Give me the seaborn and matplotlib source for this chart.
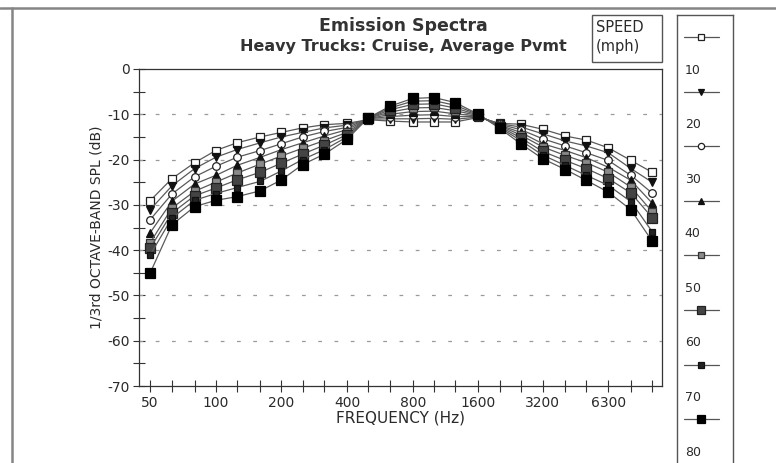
import numpy as np
import pandas as pd
import matplotlib
matplotlib.use("Agg")
import matplotlib.pyplot as plt
import seaborn as sns
from matplotlib.lines import Line2D
from matplotlib.patches import Rectangle

# ---- data ----
freqs = [50, 63, 80, 100, 125, 160, 200, 250, 315, 400, 500, 630, 800, 1000,
         1250, 1600, 2000, 2500, 3150, 4000, 5000, 6300, 8000, 10000]
speeds = [10, 20, 30, 40, 50, 60, 70, 80]

spl_10 = [-29.1, -24.2, -20.7, -18.0, -16.3, -15.0, -14.0, -13.0, -12.3, -12.0, -11.2, -11.5,
          -11.7, -11.7, -11.7, -10.7, -12.0, -12.2, -13.3, -14.8, -15.7, -17.4, -20.2, -22.8]
spl_20 = [-31.1, -25.8, -22.0, -19.5, -17.8, -16.3, -15.0, -14.0, -13.0, -12.4, -11.1, -11.0,
          -11.0, -10.9, -11.1, -10.6, -12.1, -12.8, -14.3, -15.9, -17.0, -18.5, -22.0, -25.0]
spl_30 = [-33.3, -27.6, -23.8, -21.5, -19.5, -18.0, -16.5, -15.0, -13.8, -12.9, -11.0, -10.5,
          -10.2, -10.1, -10.5, -10.5, -12.2, -13.4, -15.4, -17.0, -18.5, -20.2, -23.5, -27.4]
spl_40 = [-36.2, -29.2, -25.4, -23.5, -21.3, -19.5, -17.8, -16.3, -14.8, -13.4, -11.0, -10.0,
          -9.4, -9.3, -9.9, -10.4, -12.4, -14.0, -16.5, -18.0, -19.6, -21.7, -24.6, -29.6]
spl_50 = [-38.4, -30.7, -27.0, -25.0, -23.0, -21.0, -19.2, -17.5, -15.8, -14.0, -10.9, -9.5,
          -8.6, -8.5, -9.2, -10.3, -12.5, -14.6, -17.2, -19.1, -20.7, -22.8, -26.1, -31.5]
spl_60 = [-39.6, -31.8, -28.0, -26.3, -24.5, -22.8, -20.8, -18.8, -16.8, -14.5, -10.9, -9.0,
          -7.8, -7.7, -8.6, -10.2, -12.7, -15.2, -18.2, -20.2, -22.0, -24.2, -27.4, -32.8]
spl_70 = [-41.1, -32.9, -29.0, -27.5, -26.2, -24.8, -22.5, -20.0, -17.8, -15.0, -10.8, -8.6,
          -7.1, -7.0, -8.0, -10.1, -12.9, -15.8, -19.0, -21.3, -23.5, -25.7, -29.3, -35.9]
spl_80 = [-45.1, -34.4, -30.4, -29.0, -28.2, -26.9, -24.5, -21.1, -18.8, -15.5, -10.8, -8.2,
          -6.5, -6.3, -7.4, -10.0, -13.1, -16.5, -19.8, -22.2, -24.6, -27.2, -31.1, -38.0]

tick_freqs = [50, 100, 200, 400, 800, 1600, 3150, 6300]
tick_labels = ["50", "100", "200", "400", "800", "1600", "3200", "6300"]
y_ticks = [0, -10, -20, -30, -40, -50, -60, -70]

series = [spl_10, spl_20, spl_30, spl_40, spl_50, spl_60, spl_70, spl_80]
df = pd.DataFrame({
    "freq": freqs * len(speeds),
    "speed": np.repeat(speeds, len(freqs)),
    "spl": np.concatenate(series),
})

# ---- style ----
sns.set_theme(style="white")
plt.rcParams["font.family"] = ["DejaVu Sans"]
TXT = "#2a2a2a"

marker_styles = {
    10: dict(marker="s", mfc="white", mec="#222222", ms=6),
    20: dict(marker="v", mfc="#111111", mec="#111111", ms=6),
    30: dict(marker="o", mfc="white", mec="#222222", ms=5.5),
    40: dict(marker="^", mfc="#111111", mec="#111111", ms=6),
    50: dict(marker="s", mfc="#8a8a8a", mec="#333333", ms=6),
    60: dict(marker="s", mfc="#444444", mec="#222222", ms=6.5),
    70: dict(marker="s", mfc="#222222", mec="#111111", ms=5),
    80: dict(marker="s", mfc="#000000", mec="#000000", ms=7),
}

W, H = 776, 463
fig = plt.figure(figsize=(W / 100, H / 100), dpi=100)
fig.patch.set_facecolor("white")


def fx(px):
    return px / W


def fy(py):
    return 1 - py / H


ax = fig.add_axes([fx(139), fy(386), fx(662) - fx(139), fy(69) - fy(386)])

for sp in speeds:
    sub = df[df["speed"] == sp]
    st = marker_styles[sp]
    sns.lineplot(data=sub, x="freq", y="spl", ax=ax, color="#5a5a5a", lw=0.9,
                 marker=st["marker"], markersize=st["ms"],
                 markerfacecolor=st["mfc"], markeredgecolor=st["mec"],
                 markeredgewidth=0.9, legend=False, zorder=3)

ax.set_xscale("log")
ax.set_xlim(44.5, 11100)
ax.set_ylim(-70, 0)
ax.set_xticks(tick_freqs)
ax.set_xticklabels(tick_labels)
ax.set_xticks(freqs, minor=True)
ax.xaxis.set_minor_formatter(matplotlib.ticker.NullFormatter())
ax.set_yticks(y_ticks)
ax.set_yticklabels([str(v) for v in y_ticks])
ax.set_yticks(np.arange(-65, 0, 10), minor=True)
ax.tick_params(axis="both", which="both", direction="inout", length=9, width=0.8,
               color="#333333", labelcolor=TXT, bottom=True, left=True)
ax.tick_params(axis="x", which="major", labelsize=10, pad=3)
ax.tick_params(axis="y", which="major", labelsize=10, pad=2)

for v in [-10, -20, -30, -40, -50, -60]:
    ax.axhline(v, color="#9a9a9a", lw=0.9, ls=(0, (3, 10)), zorder=1)

for s in ax.spines.values():
    s.set_color("#333333")
    s.set_linewidth(0.9)

ax.set_xlabel("FREQUENCY (Hz)", fontsize=11, color=TXT, labelpad=0)
ax.set_ylabel("1/3rd OCTAVE-BAND SPL (dB)", fontsize=10, color=TXT, labelpad=3)

fig.text(fx(403), fy(26), "Emission Spectra", ha="center", va="center",
         fontsize=12.5, fontweight="bold", color="#333333")
fig.text(fx(403), fy(46), "Heavy Trucks: Cruise, Average Pvmt", ha="center", va="center",
         fontsize=11.5, fontweight="bold", color="#333333")

# SPEED box
fig.add_artist(Rectangle((fx(592), fy(62)), fx(662) - fx(592), fy(15) - fy(62),
                         transform=fig.transFigure, fc="white", ec="#555555", lw=1.0))
fig.text(fx(596), fy(27), "SPEED", ha="left", va="center", fontsize=10.5, color=TXT)
fig.text(fx(596), fy(46), "(mph)", ha="left", va="center", fontsize=10.5, color=TXT)

# legend panel (y measured in pixels from top of figure)
lax = fig.add_axes([fx(677), 0, fx(733) - fx(677), fy(15)])
lax.set_xlim(0, 1)
lax.set_ylim(H, 15)
lax.set_xticks([])
lax.set_yticks([])
for s in lax.spines.values():
    s.set_color("#555555")
    s.set_linewidth(1.0)
lax.spines["bottom"].set_visible(False)
for i, sp in enumerate(speeds):
    yy = 37 + 54.6 * i
    st = marker_styles[sp]
    lax.add_line(Line2D([0.12, 0.75], [yy, yy], color="#555555", lw=0.9))
    lax.add_line(Line2D([0.42], [yy], marker=st["marker"], ms=st["ms"] - 1,
                        mfc=st["mfc"], mec=st["mec"], mew=0.9, ls="none"))
    lax.text(0.14, yy + 33, str(sp), ha="left", va="center",
             fontsize=9, color=TXT)

# outer frame lines
fig.add_artist(Line2D([fx(12), fx(12)], [0, fy(8)], transform=fig.transFigure,
                      color="#858585", lw=1.8))
fig.add_artist(Line2D([0.0, 1.0], [fy(8), fy(8)], transform=fig.transFigure,
                      color="#858585", lw=1.8))

fig.savefig("out.png", dpi=100, facecolor="white")
